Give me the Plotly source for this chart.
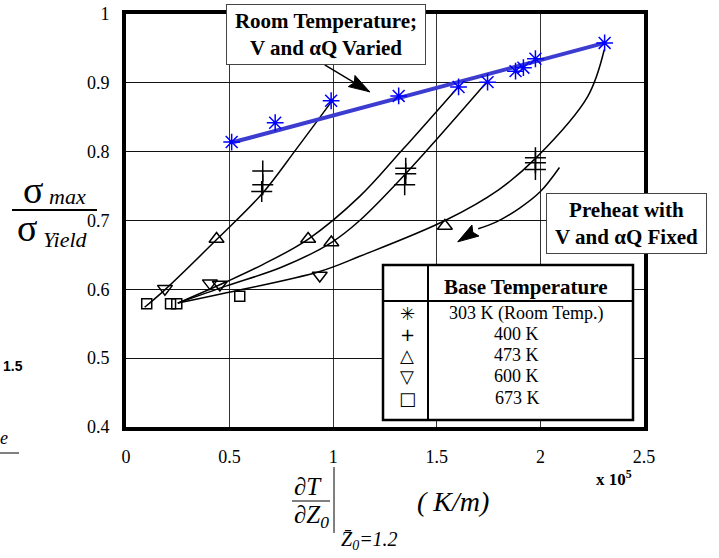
import numpy as np
import plotly.graph_objects as go

# ---------------- data ----------------
# 303 K (room temperature), V and alphaQ varied
room_x = [0.51, 0.72, 0.99, 1.316, 1.605, 1.745, 1.88, 1.918, 1.976, 2.31]
room_y = [0.814, 0.842, 0.874, 0.881, 0.894, 0.901, 0.917, 0.922, 0.935, 0.958]
# straight line fitted through the room temperature points
fit_x = [0.52, 2.31]
fit_y = [0.814, 0.958]

k400_x = [0.66, 0.66, 0.655, 1.35, 1.35, 1.345, 1.976, 1.976, 1.976]
k400_y = [0.772, 0.752, 0.742, 0.776, 0.768, 0.752, 0.791, 0.784, 0.774]

k473_x = [0.437, 0.879, 0.991, 1.539]
k473_y = [0.673, 0.673, 0.668, 0.692]

k600_x = [0.188, 0.405, 0.453, 0.935]
k600_y = [0.601, 0.609, 0.607, 0.620]

k673_x = [0.10, 0.215, 0.245, 0.549]
k673_y = [0.579, 0.579, 0.579, 0.590]

# preheat curves (V and alphaQ fixed)
curve_a_x = [0.09, 0.19, 0.44, 0.66, 0.82, 0.99]
curve_a_y = [0.574, 0.600, 0.673, 0.740, 0.803, 0.872]
curve_b_x = [0.25, 0.485, 0.66, 0.88, 1.128, 1.335, 1.60]
curve_b_y = [0.580, 0.611, 0.636, 0.673, 0.735, 0.803, 0.893]
curve_c_x = [0.25, 0.485, 0.75, 0.991, 1.128, 1.353, 1.738]
curve_c_y = [0.580, 0.605, 0.632, 0.668, 0.700, 0.769, 0.900]
curve_d_x = [0.25, 0.485, 0.935, 1.128, 1.54, 1.80, 1.979, 2.228, 2.308]
curve_d_y = [0.580, 0.595, 0.626, 0.648, 0.700, 0.745, 0.791, 0.880, 0.948]

# curved "preheat" arrow (path + tip)
arrow_x = [2.092, 2.0, 1.90, 1.788, 1.70]
arrow_y = [0.777, 0.742, 0.718, 0.698, 0.688]
arrow_tip = (1.601, 0.669)
# "room temperature" arrow
room_arrow_tail = (0.959, 0.926)
room_arrow_tip = (1.176, 0.887)

x_ticks = [0, 0.5, 1, 1.5, 2, 2.5]
x_tick_text = ["0", "0.5", "1", "1.5", "2", "2.5"]
y_ticks = [0.4, 0.5, 0.6, 0.7, 0.8, 0.9, 1.0]
y_tick_text = ["0.4", "0.5", "0.6", "0.7", "0.8", "0.9", "1"]

legend_title = "Base Temperature"
legend_labels = ["303 K (Room Temp.)", "400 K", "473 K", "600 K", "673 K"]
legend_glyphs = ["\u2733", "+", "\u25B3", "\u25BD", "\u25A1"]

# ---------------- layout helpers ----------------
W, H = 719, 558
L, R, T, B = 126, 644, 14, 427
X_RANGE = (0, 2.5)
Y_RANGE = (0.4, 1.0)
SX = (R - L) / (X_RANGE[1] - X_RANGE[0])   # px per x unit
SY = (B - T) / (Y_RANGE[1] - Y_RANGE[0])   # px per y unit


def px(x):
    return (x - L) / (R - L)


def py(y):
    return (B - y) / (B - T)


def arrow_head(tip, base_dir_pt, length=21, half_width=6.5, notch=0.85):
    """Filled arrow head polygon (data coords) pointing at tip, coming from base_dir_pt."""
    tx, ty = tip[0] * SX, -tip[1] * SY
    bx, by = base_dir_pt[0] * SX, -base_dir_pt[1] * SY
    d = np.array([tx - bx, ty - by])
    d /= np.hypot(*d)
    n = np.array([-d[1], d[0]])
    t = np.array([tx, ty])
    pts = [t, t - d * length + n * half_width, t - d * length * notch,
           t - d * length - n * half_width, t]
    xs = [p[0] / SX for p in pts]
    ys = [-p[1] / SY for p in pts]
    return xs, ys


SERIF = "Liberation Serif"
fig = go.Figure()

for cx, cy in [(curve_a_x, curve_a_y), (curve_b_x, curve_b_y),
               (curve_c_x, curve_c_y), (curve_d_x, curve_d_y),
               (arrow_x, arrow_y)]:
    fig.add_trace(go.Scatter(x=cx, y=cy, mode="lines",
                             line=dict(color="black", width=1.5, shape="spline", smoothing=1.0),
                             showlegend=False, hoverinfo="skip"))

# room temperature arrow shaft
fig.add_trace(go.Scatter(x=[room_arrow_tail[0], room_arrow_tip[0]],
                         y=[room_arrow_tail[1], room_arrow_tip[1]], mode="lines",
                         line=dict(color="black", width=1.5), showlegend=False, hoverinfo="skip"))
# arrow heads
for tip, frm in [(arrow_tip, (arrow_x[-1], arrow_y[-1])), (room_arrow_tip, room_arrow_tail)]:
    hx, hy = arrow_head(tip, frm)
    fig.add_trace(go.Scatter(x=hx, y=hy, mode="lines", fill="toself", fillcolor="black",
                             line=dict(color="black", width=1), showlegend=False, hoverinfo="skip"))

fig.add_trace(go.Scatter(x=fit_x, y=fit_y, mode="lines",
                         line=dict(color="#3c3cd0", width=4), showlegend=False))


def mstyle(symbol, size, color):
    return dict(symbol=symbol, size=size, color=color, line=dict(color=color, width=1.5))


fig.add_trace(go.Scatter(x=room_x, y=room_y, mode="markers", showlegend=False,
                         marker=mstyle("asterisk-open", 14, "#0000ff")))
fig.add_trace(go.Scatter(x=k400_x, y=k400_y, mode="markers", showlegend=False,
                         marker=mstyle("cross-thin-open", 15, "black")))
fig.add_trace(go.Scatter(x=k473_x, y=k473_y, mode="markers", showlegend=False,
                         marker=mstyle("triangle-up-open", 13, "black")))
fig.add_trace(go.Scatter(x=k600_x, y=k600_y, mode="markers", showlegend=False,
                         marker=mstyle("triangle-down-open", 13, "black")))
fig.add_trace(go.Scatter(x=k673_x, y=k673_y, mode="markers", showlegend=False,
                         marker=mstyle("square-open", 10, "black")))

shapes = []
annotations = []


def note(x, y, text, **kw):
    d = dict(x=px(x), y=py(y), xref="paper", yref="paper", text=text,
             showarrow=False, xanchor="center", yanchor="middle")
    d.update(kw)
    return d


# boxed notes
annotations.append(note(326, 34.5, "<b>Room Temperature;<br>V and \u03b1Q Varied</b>",
                        font=dict(family=SERIF, size=21, color="black"),
                        bgcolor="white", bordercolor="#444", borderwidth=1, borderpad=2,
                        width=194, height=55, align="center"))
annotations.append(note(626.5, 223.5, "<b>Preheat with<br>V and \u03b1Q Fixed</b>",
                        font=dict(family=SERIF, size=21, color="black"),
                        bgcolor="white", bordercolor="#444", borderwidth=1, borderpad=2,
                        width=155, height=55, align="center"))

# legend table
shapes.append(dict(type="rect", xref="paper", yref="paper",
                   x0=px(383), x1=px(633), y0=py(420), y1=py(265),
                   line=dict(color="black", width=2.5), fillcolor="white", layer="above"))
shapes.append(dict(type="line", xref="paper", yref="paper",
                   x0=px(428), x1=px(428), y0=py(420), y1=py(265),
                   line=dict(color="black", width=2), layer="above"))
shapes.append(dict(type="line", xref="paper", yref="paper",
                   x0=px(383), x1=px(633), y0=py(301), y1=py(301),
                   line=dict(color="black", width=2), layer="above"))
annotations.append(note(526, 287, "<b>" + legend_title + "</b>",
                        font=dict(family=SERIF, size=21, color="black")))
rows = [313, 334, 355, 376, 398]
text_cx = [526, 516, 516, 516, 517]
for lab, gl, ry, cx in zip(legend_labels, legend_glyphs, rows, text_cx):
    annotations.append(note(cx, ry, lab, font=dict(family=SERIF, size=18, color="black")))
    annotations.append(note(407, ry, gl, font=dict(family="DejaVu Sans", size=18, color="black")))

# y-axis title sigma_max / sigma_Yield
annotations += [
    note(33, 190, "\u03c3", font=dict(family=SERIF, size=38, color="black")),
    note(67, 197, "<i>max</i>", font=dict(family=SERIF, size=22, color="black")),
    note(27, 228, "\u03c3", font=dict(family=SERIF, size=38, color="black")),
    note(65, 240, "<i>Yield</i>", font=dict(family=SERIF, size=22, color="black")),
]
shapes.append(dict(type="line", xref="paper", yref="paper", x0=px(12), x1=px(97),
                   y0=py(210), y1=py(210), line=dict(color="black", width=2)))

# x-axis title dT/dZ0 |Z0=1.2 (K/m)
annotations += [
    note(308, 486, "\u2202<i>T</i>", font=dict(family=SERIF, size=25, color="black")),
    note(311, 516, "\u2202<i>Z<sub>0</sub></i>", font=dict(family=SERIF, size=25, color="black")),
    note(369, 540, "<i>Z\u0304<sub>0</sub>=1.2</i>", font=dict(family=SERIF, size=20, color="black")),
    note(453, 501, "<i>( K/m)</i>", font=dict(family=SERIF, size=28, color="black")),
    note(614, 478, "<b>x 10<sup>5</sup></b>", font=dict(family=SERIF, size=17, color="black")),
    note(13, 366, "<b>1.5</b>", font=dict(family="Liberation Sans", size=14, color="black")),
    note(4, 438, "<i>e</i>", font=dict(family=SERIF, size=18, color="black")),
]
shapes.append(dict(type="line", xref="paper", yref="paper", x0=px(292), x1=px(330),
                   y0=py(501), y1=py(501), line=dict(color="black", width=1)))
shapes.append(dict(type="line", xref="paper", yref="paper", x0=px(334), x1=px(334),
                   y0=py(467), y1=py(533), line=dict(color="black", width=1)))
shapes.append(dict(type="line", xref="paper", yref="paper", x0=px(0), x1=px(19),
                   y0=py(453), y1=py(453), line=dict(color="black", width=1)))

fig.update_layout(
    width=W, height=H,
    margin=dict(l=L, r=W - R, t=T, b=H - B, pad=0, autoexpand=False),
    paper_bgcolor="white", plot_bgcolor="white",
    showlegend=False,
    shapes=shapes, annotations=annotations,
    xaxis=dict(range=list(X_RANGE), tickvals=x_ticks, ticktext=x_tick_text, automargin=False,
               showgrid=True, gridcolor="#333", gridwidth=1,
               showline=True, linecolor="black", linewidth=4, mirror=True,
               ticks="", ticklabelstandoff=10, zeroline=False,
               tickfont=dict(family=SERIF, size=18, color="black")),
    yaxis=dict(range=list(Y_RANGE), tickvals=y_ticks, ticktext=y_tick_text, automargin=False,
               showgrid=True, gridcolor="#111", gridwidth=1,
               showline=True, linecolor="black", linewidth=4, mirror=True,
               ticks="", ticklabelstandoff=9, zeroline=False,
               tickfont=dict(family=SERIF, size=18, color="black")),
)

fig.write_html("out.html")
